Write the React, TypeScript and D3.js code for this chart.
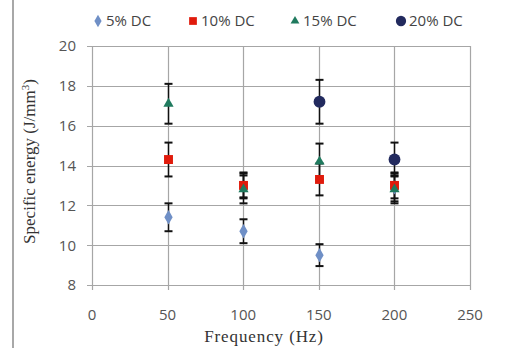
import { useEffect, useRef } from "react";
import * as d3 from "d3";

const frequencies = [50, 100, 150, 200];
const seriesNames = ["5% DC", "10% DC", "15% DC", "20% DC"];
const dc5 = [11.4, 10.7, 9.5, 12.9];
const dc10 = [14.3, 13.0, 13.3, 13.0];
const dc15 = [17.1, 12.8, 14.2, 12.8];
const dc20 = [null, 13.0, 17.2, 14.3];
const err5 = [0.7, 0.6, 0.55, 0.7];
const err10 = [0.85, 0.65, 0.8, 0.65];
const err15 = [1.0, 0.7, 0.9, 0.7];
const err20 = [0, 0.6, 1.1, 0.85];
const xTicks = [0, 50, 100, 150, 200, 250];
const yTicks = [8, 10, 12, 14, 16, 18, 20];

const colors = ["#6f8fc6", "#e01b0c", "#1f7a5e", "#222a5e"];
const shapes = [d3.symbolDiamond, d3.symbolSquare, d3.symbolTriangle, d3.symbolCircle];
const sizes = [60, 80, 45, 110];

export default function App() {
  const svgRef = useRef<SVGSVGElement>(null);

  useEffect(() => {
    if (!svgRef.current) return;
    const width = 520;
    const height = 348;
    const margin = { top: 46, right: 50, bottom: 63, left: 92 };

    const svg = d3.select(svgRef.current).attr("width", width).attr("height", height);
    svg.selectAll("*").remove();

    svg.append("rect").attr("width", width).attr("height", height).attr("fill", "#fff");
    svg.append("rect").attr("x", 12).attr("y", 0).attr("width", 2).attr("height", height).attr("fill", "#a8a8a8");

    const x = d3.scaleLinear().domain([0, 250]).range([margin.left, width - margin.right]);
    const y = d3.scaleLinear().domain([8, 20]).range([height - margin.bottom, margin.top]);

    const grid = svg.append("g").attr("stroke", "#a6a6a6").attr("stroke-width", 1.2);
    yTicks.forEach((t) => {
      grid.append("line")
        .attr("x1", x(0) - 5).attr("x2", x(250))
        .attr("y1", Math.round(y(t)) + 0.5).attr("y2", Math.round(y(t)) + 0.5);
    });
    xTicks.forEach((t) => {
      grid.append("line")
        .attr("x1", Math.round(x(t)) + 0.5).attr("x2", Math.round(x(t)) + 0.5)
        .attr("y1", y(20)).attr("y2", y(8) + 5);
    });

    const tickFont = "'Open Sans', 'Noto Sans', sans-serif";
    svg.append("g").selectAll("text").data(yTicks).join("text")
      .attr("x", x(0) - 16).attr("y", (d) => y(d)).attr("dy", "0.36em")
      .attr("text-anchor", "end").attr("font-family", tickFont).attr("font-size", 15)
      .attr("fill", "#555").text((d) => d);
    svg.append("g").selectAll("text").data(xTicks).join("text")
      .attr("x", (d) => x(d)).attr("y", y(8) + 35)
      .attr("text-anchor", "middle").attr("font-family", tickFont).attr("font-size", 15)
      .attr("fill", "#555").text((d) => d);

    svg.append("text")
      .attr("x", 264).attr("y", 342)
      .attr("text-anchor", "middle").attr("font-family", "'Liberation Serif', serif")
      .attr("font-size", 17).attr("letter-spacing", 0.9).attr("fill", "#333").text("Frequency (Hz)");

    const yt = svg.append("text")
      .attr("transform", `translate(35,${(y(8) + y(20)) / 2 - 4}) rotate(-90)`)
      .attr("text-anchor", "middle").attr("font-family", "'Liberation Serif', serif")
      .attr("font-size", 17).attr("fill", "#333");
    yt.append("tspan").text("Specific energy (J/mm");
    yt.append("tspan").attr("dy", -6).attr("font-size", 11).text("3");
    yt.append("tspan").attr("dy", 6).text(")");

    const values = [dc5, dc10, dc15, dc20];
    const errors = [err5, err10, err15, err20];

    values.forEach((vals, si) => {
      const g = svg.append("g");
      frequencies.forEach((f, i) => {
        const v = vals[i];
        if (v == null) return;
        const cx = Math.round(x(f)) + 0.5;
        const lo = y(v - errors[si][i]);
        const hi = y(v + errors[si][i]);
        g.append("line").attr("x1", cx).attr("x2", cx).attr("y1", lo).attr("y2", hi)
          .attr("stroke", "#111").attr("stroke-width", 1.5);
        [lo, hi].forEach((yy) => {
          g.append("line").attr("x1", cx - 4).attr("x2", cx + 4).attr("y1", yy).attr("y2", yy)
            .attr("stroke", "#111").attr("stroke-width", 2);
        });
      });
    });

    values.forEach((vals, si) => {
      const pts = frequencies.map((f, i) => ({ f, v: vals[i] })).filter((p) => p.v != null) as { f: number; v: number }[];
      // the 20% DC marker at 100 Hz sits under the others in the original
      svg.append("g").selectAll("path").data(pts.filter((p) => !(si === 3 && p.f === 100))).join("path")
        .attr("transform", (d) => `translate(${Math.round(x(d.f)) + 0.5},${y(d.v)})`)
        .attr("d", d3.symbol().type(shapes[si]).size(sizes[si]))
        .attr("fill", colors[si]);
    });

    // legend
    const legendX = [98, 193, 295, 401];
    const legend = svg.append("g");
    seriesNames.forEach((name, i) => {
      legend.append("path")
        .attr("transform", `translate(${legendX[i]},21)`)
        .attr("d", d3.symbol().type(shapes[i]).size(sizes[i] * 0.75))
        .attr("fill", colors[i]);
      legend.append("text")
        .attr("x", legendX[i] + 8).attr("y", 21).attr("dy", "0.36em")
        .attr("font-family", tickFont).attr("font-size", 15).attr("fill", "#444")
        .text(name);
    });
  }, []);

  return <svg ref={svgRef} style={{ position: "absolute", left: 0, top: 0 }} />;
}
